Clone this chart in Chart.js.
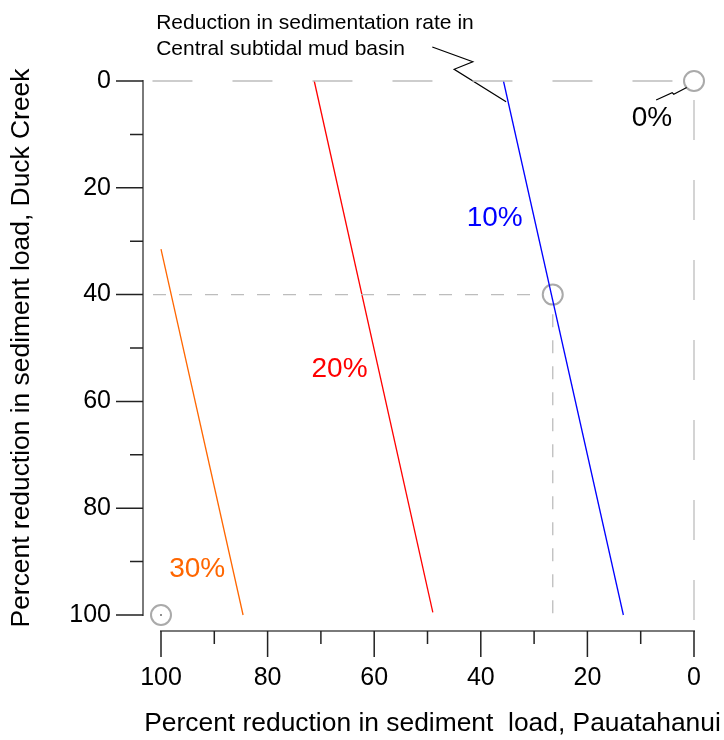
<!DOCTYPE html>
<html>
<head>
<meta charset="utf-8">
<script src="https://cdn.jsdelivr.net/npm/chart.js@4/dist/chart.umd.min.js"></script>
<style>
  html, body { margin: 0; padding: 0; background: #ffffff; }
  #wrap { width: 724px; height: 740px; position: relative; }
</style>
</head>
<body>
<div id="wrap"><canvas id="c" width="724" height="740"></canvas></div>
<script>
// ---- data (percent reduction: x = Pauatahanui, y = Duck Creek) ----
const xTickValues = [0, 20, 40, 60, 80, 100];
const yTickValues = [0, 20, 40, 60, 80, 100];

const line10X = [35.75, 13.25];
const line10Y = [0, 100];
const line20X = [71.25, 49.0];
const line20Y = [0, 99.5];
const line30X = [100, 84.6];
const line30Y = [31.5, 100];

const ref0HX = [101.6, 1.9];
const ref0HY = [0, 0];
const ref0VX = [0, 0];
const ref0VY = [3.56, 101];
const ref40HX = [101.5, 28.4];
const ref40HY = [40, 40];
const ref40VX = [26.5, 26.5];
const ref40VY = [43.7, 100.6];

const markerX = [0, 26.5, 100];
const markerY = [0, 40, 100];

const leaderX = [49.1, 41.5, 45.0, 35.25];
const leaderY = [-6.37, -3.6, -2.2, 3.9];
const leader0X = [7.1, 4.1, 3.8, 1.37];
const leader0Y = [3.56, 2.19, 2.49, 1.2];

const curveLabels = ['10%', '20%', '30%', '0%'];
const curveLabelX = [37.4, 66.5, 93.2, 7.9];
const curveLabelY = [25.7, 54.0, 91.5, 7.0];

const noteLines = ['Reduction in sedimentation rate in', 'Central subtidal mud basin'];
const noteX = 100.9;
const noteY = [-9.74, -4.87];

const xTitle = 'Percent reduction in sediment  load, Pauatahanui';
const yTitle = 'Percent reduction in sediment load, Duck Creek';

// ---- helpers ----
const pts = (xs, ys) => xs.map((v, i) => ({ x: v, y: ys[i] }));
const FONT = "'Liberation Sans', Arial, Helvetica, sans-serif";
const labelColors = ['#0000ff', '#ff0000', '#ff6600', '#000000'];

function seg(data, color, width, dash) {
  return {
    data, borderColor: color, borderWidth: width, borderDash: dash || [],
    showLine: true, pointRadius: 0, pointHoverRadius: 0, fill: false,
    tension: 0, clip: false
  };
}

const offsetAxes = {
  id: 'offsetAxes',
  afterDraw(chart) {
    const { ctx, scales: { x, y }, chartArea } = chart;
    ctx.save();
    // y axis (offset to the left of the plot)
    const ax = chartArea.left - 18;
    ctx.lineCap = 'butt';
    ctx.strokeStyle = '#7a7a7a';
    ctx.lineWidth = 2;
    ctx.beginPath();
    ctx.moveTo(ax, y.getPixelForValue(0) - 1);
    ctx.lineTo(ax, y.getPixelForValue(100) + 1);
    ctx.stroke();
    ctx.strokeStyle = '#222';
    ctx.lineWidth = 1.5;
    ctx.beginPath();
    y.ticks.forEach(t => {
      const p = y.getPixelForValue(t.value);
      const len = (t.value % 20 === 0) ? 27 : 13;
      ctx.moveTo(ax, p);
      ctx.lineTo(ax - len, p);
    });
    ctx.stroke();
    // x axis (offset below the plot)
    const ay = chartArea.bottom + 16;
    ctx.strokeStyle = '#7a7a7a';
    ctx.lineWidth = 2;
    ctx.beginPath();
    ctx.moveTo(x.getPixelForValue(100) - 1, ay);
    ctx.lineTo(x.getPixelForValue(0) + 1, ay);
    ctx.stroke();
    ctx.strokeStyle = '#222';
    ctx.lineWidth = 1.5;
    ctx.beginPath();
    x.ticks.forEach(t => {
      const p = x.getPixelForValue(t.value);
      const len = (t.value % 20 === 0) ? 26 : 13;
      ctx.moveTo(p, ay);
      ctx.lineTo(p, ay + len);
    });
    ctx.stroke();

    // x axis title (drawn at natural width, centred under the axis)
    ctx.fillStyle = '#000';
    ctx.textAlign = 'center';
    ctx.textBaseline = 'alphabetic';
    ctx.font = '26.4px ' + FONT;
    ctx.fillText(xTitle, (chartArea.left + chartArea.right) / 2 + 5, chartArea.bottom + 116);

    // curve labels
    ctx.textAlign = 'center';
    ctx.textBaseline = 'middle';
    ctx.font = '28px ' + FONT;
    curveLabels.forEach((s, i) => {
      ctx.fillStyle = labelColors[i];
      ctx.fillText(s, x.getPixelForValue(curveLabelX[i]), y.getPixelForValue(curveLabelY[i]));
    });
    // note text
    ctx.textAlign = 'left';
    ctx.textBaseline = 'alphabetic';
    ctx.fillStyle = '#000';
    ctx.font = '21px ' + FONT;
    noteLines.forEach((s, i) => {
      ctx.fillText(s, x.getPixelForValue(noteX), y.getPixelForValue(noteY[i]));
    });
    ctx.restore();
  }
};

new Chart(document.getElementById('c'), {
  type: 'scatter',
  data: {
    datasets: [
      seg(pts(ref0HX, ref0HY), '#bdbdbd', 1.3, [40, 40]),
      seg(pts(ref0VX, ref0VY), '#bdbdbd', 1.3, [40, 40]),
      seg(pts(ref40HX, ref40HY), '#bdbdbd', 1.3, [13, 13]),
      seg(pts(ref40VX, ref40VY), '#bdbdbd', 1.3, [13, 13]),
      seg(pts(line10X, line10Y), '#0000ff', 1.3),
      seg(pts(line20X, line20Y), '#ff0000', 1.3),
      seg(pts(line30X, line30Y), '#ff6600', 1.3),
      seg(pts(leaderX, leaderY), '#000000', 1.2),
      seg(pts(leader0X, leader0Y), '#000000', 1.2),
      {
        data: pts(markerX, markerY), showLine: false, clip: false,
        pointRadius: 10, pointHoverRadius: 10, pointBorderWidth: 2,
        pointBorderColor: '#aaaaaa', pointBackgroundColor: 'rgba(0,0,0,0)'
      },
      {
        data: pts([markerX[2]], [markerY[2]]), showLine: false, clip: false,
        pointRadius: 0.8, pointBorderWidth: 0, pointBackgroundColor: '#000'
      }
    ]
  },
  options: {
    responsive: false,
    animation: false,
    events: [],
    layout: { padding: { left: 0, right: 30, top: 81, bottom: 0 } },
    plugins: { legend: { display: false }, tooltip: { enabled: false } },
    scales: {
      x: {
        type: 'linear', position: 'bottom', reverse: true, min: 0, max: 100,
        afterFit: s => { s.height = 125; s.paddingLeft = 0; s.paddingRight = 0; },
        grid: { display: false, drawTicks: false }, border: { display: false },
        ticks: {
          stepSize: 10, autoSkip: false, maxRotation: 0, padding: 48,
          color: '#000', font: { family: FONT, size: 25 },
          callback: v => xTickValues.includes(v) ? String(v) : ''
        },
        title: { display: false }
      },
      y: {
        type: 'linear', position: 'left', reverse: true, min: 0, max: 100,
        afterFit: s => { s.width = 161; s.paddingTop = 0; s.paddingBottom = 0; },
        grid: { display: false, drawTicks: false }, border: { display: false },
        ticks: {
          stepSize: 10, autoSkip: false, padding: 50, crossAlign: 'near',
          color: '#000', font: { family: FONT, size: 25 },
          callback: v => yTickValues.includes(v) ? String(v) : ''
        },
        title: {
          display: true, text: yTitle, color: '#000',
          font: { family: FONT, size: 26.4 }, padding: { top: 6, bottom: 0 }
        }
      }
    }
  },
  plugins: [offsetAxes]
});
</script>
</body>
</html>
